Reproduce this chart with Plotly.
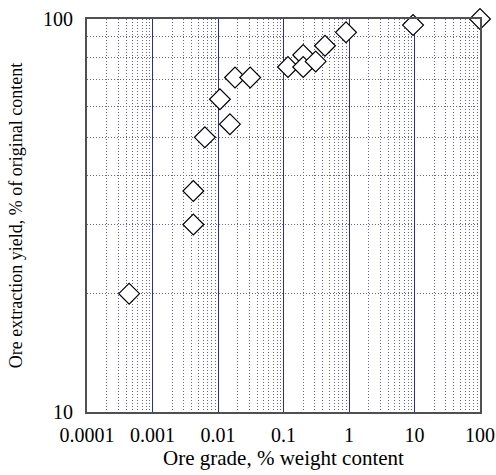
import plotly.graph_objects as go

# Ore grade (% weight content) and extraction yield (% of original content)
ore_grade = [0.00044, 0.0042, 0.0042, 0.0063, 0.0152, 0.0107, 0.0182, 0.031,
             0.117, 0.2, 0.2, 0.31, 0.43, 0.9, 9.5, 100]
extraction_yield = [20, 30, 36.5, 50, 54, 62.5, 71, 71,
                    75.5, 81, 75.5, 78, 85.5, 92.5, 96.5, 100]

x_tickvals = [0.0001, 0.001, 0.01, 0.1, 1, 10, 100]
x_ticktext = ["0.0001", "0.001", "0.01", "0.1", "1", "10", "100"]
y_tickvals = [10, 100]
y_ticktext = ["10", "100"]

FONT = '"Liberation Serif", "DejaVu Serif", serif'

fig = go.Figure(
    go.Scatter(
        x=ore_grade,
        y=extraction_yield,
        mode="markers",
        cliponaxis=False,
        marker=dict(symbol="diamond", size=16, color="white",
                    line=dict(color="black", width=1.2)),
        hoverinfo="x+y",
    )
)

fig.update_layout(
    width=496,
    height=475,
    margin=dict(l=87, r=16, t=19, b=63, autoexpand=False),
    paper_bgcolor="white",
    plot_bgcolor="white",
    showlegend=False,
    font=dict(family=FONT, color="black", size=20),
)

fig.update_xaxes(
    type="log",
    range=[-4, 2],
    automargin=False,
    tickvals=x_tickvals,
    ticktext=x_ticktext,
    ticks="",
    tickfont=dict(family=FONT, size=20),
    ticklabelstandoff=4,
    showgrid=True,
    gridcolor="#2c2ca0",
    gridwidth=1.2,
    showline=True,
    linecolor="#505050",
    linewidth=2,
    mirror=True,
    zeroline=False,
    minor=dict(dtick="D1", showgrid=True, gridcolor="#6262b4",
               griddash="1px,2px", gridwidth=1, ticks=""),
    title=dict(text="Ore grade, % weight content",
               font=dict(family=FONT, size=21), standoff=4),
)

fig.update_yaxes(
    type="log",
    range=[1, 2],
    automargin=False,
    tickvals=y_tickvals,
    ticktext=y_ticktext,
    ticks="",
    tickfont=dict(family=FONT, size=20),
    ticklabelstandoff=8,
    showgrid=False,
    showline=True,
    linecolor="#505050",
    linewidth=2,
    mirror=True,
    zeroline=False,
    minor=dict(dtick="D1", showgrid=True, gridcolor="#6262b4",
               griddash="1px,2px", gridwidth=1, ticks=""),
    title=dict(text="Ore extraction yield, % of original content",
               font=dict(family=FONT, size=18), standoff=16),
)

fig.write_html("out.html")
